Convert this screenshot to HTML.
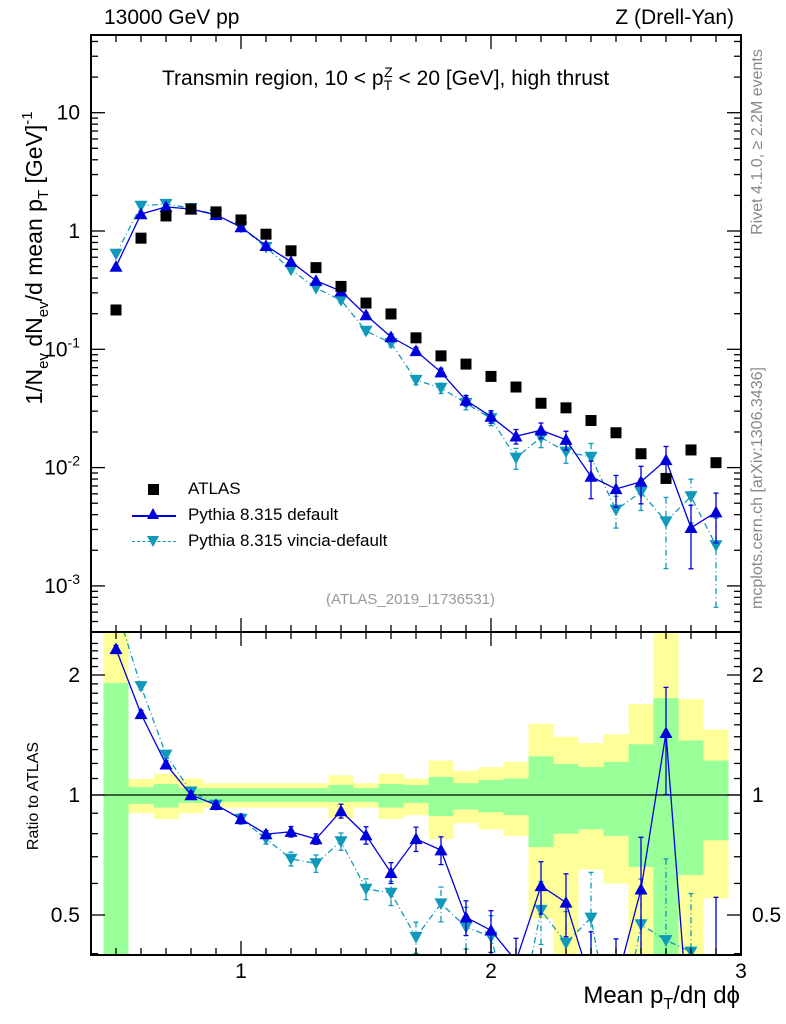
<!DOCTYPE html>
<html><head><meta charset="utf-8"><style>
html,body{margin:0;background:#fff;width:786px;height:1024px;overflow:hidden;}
svg text{font-family:"Liberation Sans",sans-serif;}
</style></head><body>
<svg id="c" width="786" height="1024" xmlns="http://www.w3.org/2000/svg" style="position:absolute;left:0;top:0"></svg>
<script>
const xc=[0.5,0.6,0.7,0.8,0.9,1.0,1.1,1.2,1.3,1.4,1.5,1.6,1.7,1.8,1.9,2.0,2.1,2.2,2.3,2.4,2.5,2.6,2.7,2.8,2.9];
const atlas=[0.215,0.87,1.34,1.53,1.45,1.24,0.94,0.68,0.49,0.34,0.246,0.199,0.125,0.088,0.075,0.059,0.048,0.035,0.032,0.025,0.0197,0.0131,0.0081,0.0141,0.0110];
const pyDef=[0.50,1.39,1.6,1.53,1.37,1.08,0.75,0.55,0.38,0.31,0.195,0.127,0.097,0.064,0.037,0.027,0.0184,0.0207,0.0172,0.0084,0.0066,0.0076,0.0116,0.0031,0.0042];
const pyDefErr=[0.02,0.02,0.02,0.02,0.02,0.02,0.02,0.03,0.03,0.04,0.05,0.06,0.07,0.08,0.1,0.12,0.14,0.15,0.18,0.35,0.3,0.35,0.3,0.55,0.45];
const pyVin=[0.64,1.63,1.69,1.56,1.37,1.08,0.73,0.47,0.33,0.26,0.143,0.113,0.055,0.047,0.035,0.026,0.0121,0.018,0.0136,0.0123,0.0044,0.0062,0.0035,0.0057,0.0022];
const pyVinErr=[0.02,0.02,0.02,0.02,0.02,0.03,0.03,0.04,0.05,0.05,0.06,0.07,0.09,0.1,0.12,0.13,0.2,0.18,0.2,0.3,0.3,0.3,0.6,0.4,0.7];
const greenLo=[0.3,0.95,0.93,0.955,0.96,0.96,0.96,0.96,0.96,0.96,0.96,0.93,0.955,0.886,0.92,0.905,0.89,0.74,0.80,0.82,0.79,0.66,0.3,0.63,0.77];
const greenHi=[1.91,1.047,1.065,1.04,1.04,1.04,1.04,1.04,1.04,1.06,1.04,1.065,1.06,1.11,1.07,1.09,1.10,1.25,1.196,1.175,1.21,1.34,1.75,1.37,1.22];
const yelLo=[0.3,0.90,0.87,0.90,0.93,0.93,0.93,0.93,0.93,0.875,0.93,0.87,0.89,0.775,0.85,0.82,0.79,0.49,0.3,0.65,0.60,0.3,0.3,0.3,0.55];
const yelHi=[3,1.097,1.13,1.10,1.07,1.07,1.07,1.07,1.07,1.12,1.07,1.13,1.10,1.22,1.15,1.175,1.21,1.51,1.40,1.35,1.42,1.69,3,1.74,1.46];
const xTicks=[1,2,3];
const yTicks=[10,1,0.1,0.01,0.001];
const rTicks=[2,1,0.5];

const svg=document.getElementById('c');
const NS='http://www.w3.org/2000/svg';
function el(t,a,p){const e=document.createElementNS(NS,t);for(const k in a)e.setAttribute(k,a[k]);(p||svg).appendChild(e);return e;}
const L=91,R=741,T=35,M=632,B=955;
const X=v=>L+(v-0.4)*(R-L)/2.6;
const Y=v=>231-118.3*Math.log10(v);
const RY=v=>795-120*Math.log2(v);
const clipM=el('clipPath',{id:'cm'});el('rect',{x:L,y:T,width:R-L,height:M-T},clipM);
const clipR=el('clipPath',{id:'cr'});el('rect',{x:L,y:M,width:R-L,height:B-M},clipR);

const gB=el('g',{'clip-path':'url(#cr)'});

xc.forEach((x,i)=>{
  const r1=el('rect',{x:X(x-0.05),width:X(x+0.05)-X(x-0.05),y:RY(yelHi[i]),height:RY(yelLo[i])-RY(yelHi[i]),fill:'#ffff99'},gB);
  
  const r2=el('rect',{x:X(x-0.05),width:X(x+0.05)-X(x-0.05),y:RY(greenHi[i]),height:RY(greenLo[i])-RY(greenHi[i]),fill:'#99ff99'},gB);
  
});
el('line',{x1:L,x2:R,y1:RY(1),y2:RY(1),stroke:'#000','stroke-width':1.3});

function tri(x,y,up,col,g){const s=6.5;const p=up?`${x},${y-s} ${x-s},${y+s*0.8} ${x+s},${y+s*0.8}`:`${x},${y+s} ${x-s},${y-s*0.8} ${x+s},${y-s*0.8}`;return el('polygon',{points:p,fill:col},g);}
function series(vals,errs,ref,up,col,dash,name,clip,yf){
  const g=el('g',{'clip-path':clip});
  
  const v=vals.map((d,i)=>ref?d/ref[i]:d);
  el('polyline',{points:xc.map((x,i)=>X(x)+','+yf(v[i])).join(' '),fill:'none',stroke:col,'stroke-width':1.3,'stroke-dasharray':dash},g);
  xc.forEach((x,i)=>{
    const lo=yf(v[i]*(1-errs[i])),hi=yf(v[i]*(1+errs[i]));
    el('line',{x1:X(x),x2:X(x),y1:lo,y2:hi,stroke:col,'stroke-width':1.3,'stroke-dasharray':dash},g);
    el('line',{x1:X(x)-2.5,x2:X(x)+2.5,y1:lo,y2:lo,stroke:col,'stroke-width':1.3},g);
    el('line',{x1:X(x)-2.5,x2:X(x)+2.5,y1:hi,y2:hi,stroke:col,'stroke-width':1.3},g);
    const m=tri(X(x),yf(v[i]),up,col,g);
    
  });
}
series(pyVin,pyVinErr,null,false,'#1199bb','6,3,1,3','vincia-series','url(#cm)',Y);
series(pyDef,pyDefErr,null,true,'#0000dd','','pythia-default-series','url(#cm)',Y);
series(pyVin,pyVinErr,atlas,false,'#1199bb','6,3,1,3','vincia-ratio','url(#cr)',RY);
series(pyDef,pyDefErr,atlas,true,'#0000dd','','pythia-default-ratio','url(#cr)',RY);
const gA=el('g',{});

xc.forEach((x,i)=>{const r=el('rect',{x:X(x)-5.5,y:Y(atlas[i])-5.5,width:11,height:11,fill:'#000'},gA);
  });

el('rect',{x:L,y:T,width:R-L,height:M-T,fill:'none',stroke:'#000','stroke-width':2});
el('rect',{x:L,y:M,width:R-L,height:B-M,fill:'none',stroke:'#000','stroke-width':2});
for(let v=0.4;v<=3.001;v+=0.1){const x=X(v);const maj=Math.abs(v-Math.round(v))<0.01;const len=maj?14:7;
  [[T,1],[M,-1],[M,1],[B,-1]].forEach(([y,d])=>el('line',{x1:x,x2:x,y1:y,y2:y+d*len,stroke:'#000','stroke-width':1.3}));}
xTicks.forEach(v=>{const t=el('text',{x:X(v),y:978,'font-size':21,'text-anchor':'middle'});t.textContent=v;
  });
for(let e=-4;e<=1;e++)for(let k=1;k<10;k++){const v=k*Math.pow(10,e);const y=Y(v);if(y<T||y>M)continue;const len=k==1?14:7;
  el('line',{x1:L,x2:L+len,y1:y,y2:y,stroke:'#000','stroke-width':1.3});el('line',{x1:R,x2:R-len,y1:y,y2:y,stroke:'#000','stroke-width':1.3});}
yTicks.forEach(v=>{const e=Math.round(Math.log10(v));const t=el('text',{x:80,y:Y(v)+7,'font-size':21,'text-anchor':'end'});
  if(e==1)t.textContent='10';else if(e==0)t.textContent='1';else{t.textContent='10';const s=el('tspan',{dy:-9,'font-size':14},t);s.textContent=String(e);}
  });
for(let v=0.4;v<=2.5;v+=0.1){const y=RY(v);if(y<M||y>B)continue;const maj=[0.5,1,2].some(m=>Math.abs(m-v)<0.01);const len=maj?14:7;
  el('line',{x1:L,x2:L+len,y1:y,y2:y,stroke:'#000','stroke-width':1.3});el('line',{x1:R,x2:R-len,y1:y,y2:y,stroke:'#000','stroke-width':1.3});}
rTicks.forEach(v=>{[[80,'end'],[752,'start']].forEach(([x,a])=>{const t=el('text',{x:x,y:RY(v)+7,'font-size':21,'text-anchor':a});t.textContent=v;
  });});

// rotated texts in svg
function rtext(x,y,size,col,name,parts){const t=el('text',{x:0,y:0,'font-size':size,fill:col,'text-anchor':'middle',transform:`translate(${x},${y}) rotate(-90)`});
  
  parts.forEach(p=>{const s=el('tspan',p[1]?{'font-size':p[1],dy:p[2]}:{dy:p[2]||0},t);s.textContent=p[0];});return t;}
rtext(42,258,23,'#000','y-axis-title',[['1/N'],['ev',15,6],[' dN',null,-6],['ev',15,6],['/d mean p',null,-6],['T',15,6],[' [GeV]',null,-6],['-1',15,-10]]);
rtext(38,796,16,'#000','ratio-axis-title',[['Ratio to ATLAS']]);
rtext(762,142,16,'#888','rivet-label',[['Rivet 4.1.0, ≥ 2.2M events']]);
rtext(762,488,16,'#888','mcplots-label',[['mcplots.cern.ch [arXiv:1306.3436]']]);
</script>
<div style="position:absolute;left:0;top:0;width:786px;height:1024px;overflow:hidden;font-family:'Liberation Sans',sans-serif;pointer-events:none">
<div style="position:absolute;left:104px;top:6px;font-size:21px">13000 GeV pp</div>
<div style="position:absolute;right:52px;top:6px;font-size:21px">Z (Drell-Yan)</div>
<div style="position:absolute;left:162px;top:64px;font-size:21px">Transmin region, 10 &lt; p<sub style="font-size:14px">T</sub><sup style="font-size:14px;margin-left:-8px">Z</sup> &lt; 20 [GeV], high thrust</div>
<div style="position:absolute;left:326px;top:591px;font-size:15px;color:#999">(ATLAS_2019_I1736531)</div>
<div style="position:absolute;left:140px;top:476px;font-size:17px;line-height:26px">
<div style="position:relative;padding-left:48px"><span style="position:absolute;left:8px;top:8px;width:11px;height:11px;background:#000"></span>ATLAS</div>
<div style="position:relative;padding-left:48px"><span style="position:absolute;left:-8px;top:13px;width:44px;height:1.5px;background:#0000dd"></span><span style="position:absolute;left:7px;top:6px;width:0;height:0;border-left:6px solid transparent;border-right:6px solid transparent;border-bottom:11px solid #0000dd"></span>Pythia 8.315 default</div>
<div style="position:relative;padding-left:48px"><span style="position:absolute;left:-8px;top:13px;width:44px;border-top:1.5px dashed #1199bb"></span><span style="position:absolute;left:7px;top:8px;width:0;height:0;border-left:6px solid transparent;border-right:6px solid transparent;border-top:11px solid #1199bb"></span>Pythia 8.315 vincia-default</div>
</div>
<div style="position:absolute;right:46px;top:982px;font-size:24px">Mean p<sub style="font-size:16px">T</sub>/dη dϕ</div>
</div>
</body></html>
